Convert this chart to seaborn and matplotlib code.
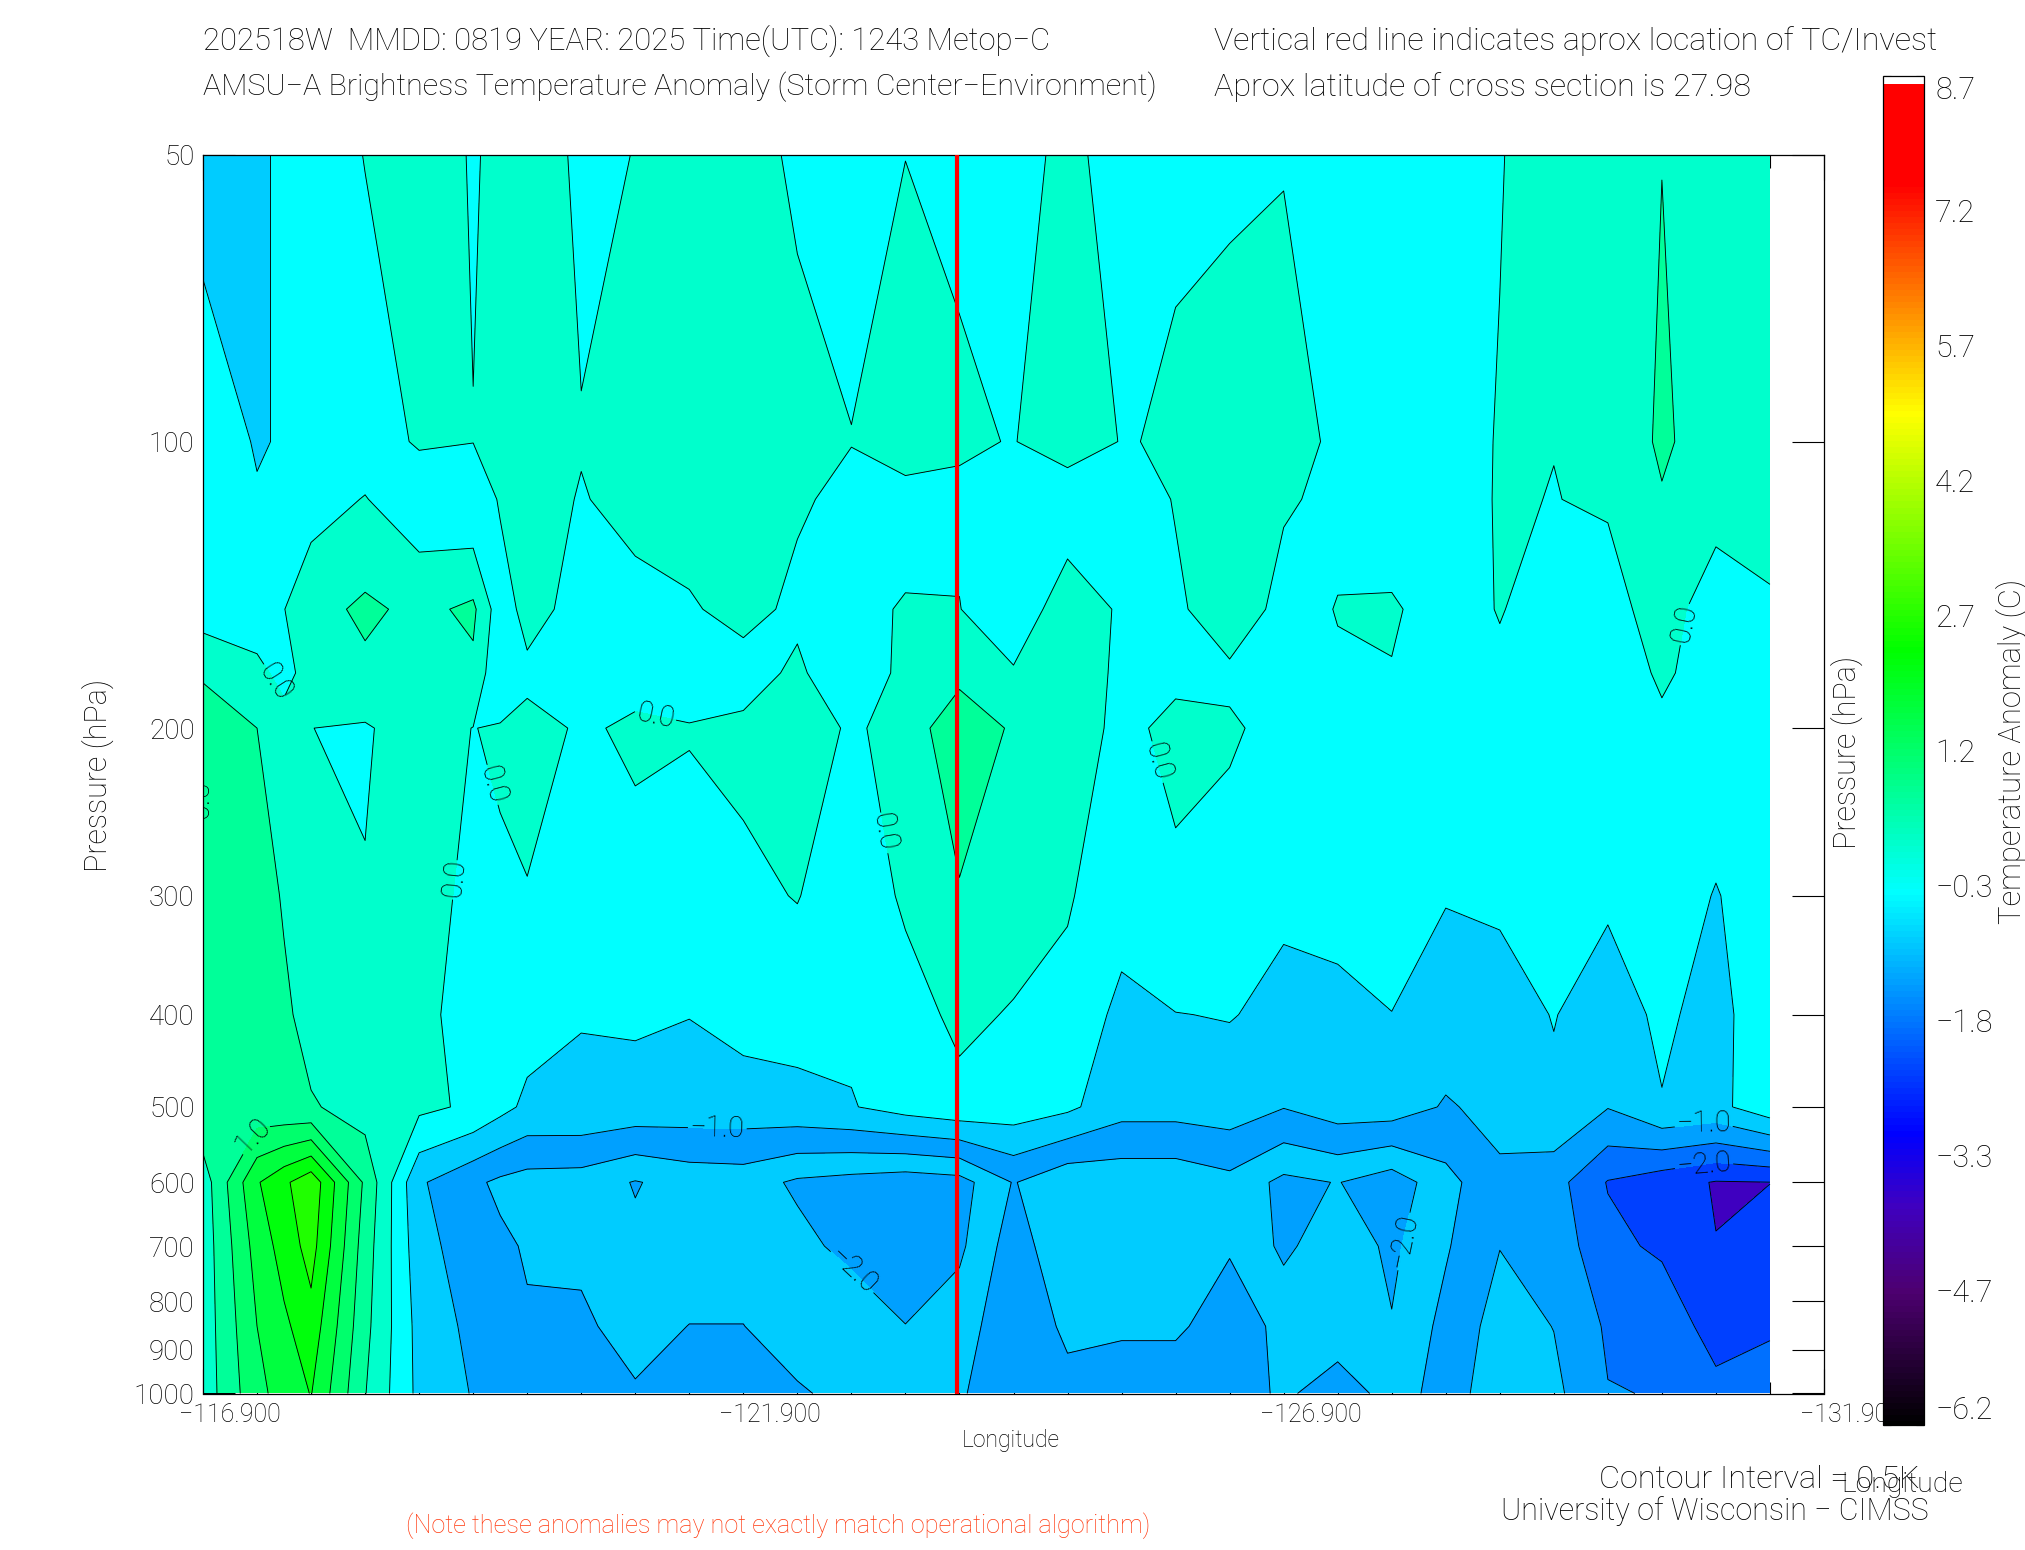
import numpy as np
import matplotlib
matplotlib.use('Agg')
import matplotlib.pyplot as plt
import seaborn as sns
from matplotlib.colors import ListedColormap, Normalize
from matplotlib.colorbar import ColorbarBase
from matplotlib.patches import Rectangle
from matplotlib.ticker import NullLocator, FixedLocator
from matplotlib.transforms import ScaledTranslation

# ------------------------------------------------------------
# cross section values, one list per pressure level
# ------------------------------------------------------------
LON = [-116.9, -117.4, -117.65, -117.9, -118.4, -118.9, -119.4, -119.65, -119.9, -120.4, -120.9,
       -121.4, -121.9, -122.4, -122.9, -123.4, -123.9, -124.4, -124.9, -125.4, -125.9,
       -126.4, -126.9, -127.4, -127.9, -128.4, -128.9, -129.4, -129.9, -130.4, -130.9, -131.4]
PRESSURE = [50, 100, 115, 150, 175, 200, 300, 400, 500, 600, 700, 850, 1000]

R50 = [-.7, -.6, -.4, -.2, .01, .2, -.03, .08, .3, -.1, .01, .2, .173, -.074, -.115, -.003, -.04,
       -.225, .15, -.25, -.0225, -.047, -.015, -.3, -.3, -.3, -.02, .2, .2, .495, .2, .2]
R100 = [-.13, -.55, -.45, -.38, -.22, .05, .01, .12, .2, .03, .2, .2, .2, .2, .01, .2, .045,
        -.014, .2, -.015, .028, .15, .15, -.07, -.3, -.21, .03, .006, .15, .575, .26, .2]
R115 = [-.15, -.45, -.3, -.175, .02, -.3, -.42, .06, .2, -.03, .15, .2, .25, .05, -.1, -.15, -.0675,
        -.15, -.26, -.1, .01, .2, .015, -.03, -.39, -.21, .035, -.009, .05, .463, .2, .15]
R150 = [-.22, -.28, -.01, .31, .6, .37, .6, -.3, .2, -.2, -.16, -.05, .15, -.1, -.1, .03, .01,
        -.3, .25, -.055, -.03, .1, -.05, .005, .08, -.3, .035, -.3, -.21, .25, -.3, -.05]
R175 = [.4, .13, -.15, .2, .39, .35, .39, -.45, -.12, -.3, -.13, -.09, -.2, .09, -.4, .15, .38,
        .045, .3, -.1, -.1, -.03, -.15, -.015, -.03, -.3, -.13, -.3, -.4, .1, -.3, -.3]
R200 = [.98, .5, .2, .003, -.05, .24, -.01, .05, .15, -.05, .06, .01, .1, .4, -.1, .25, .8,
        .44, .25, -.12, .12, .02, -.05, -.2, -.3, -.3, -.25, -.3, -.3, -.13, -.3, -.3]
R300 = [.95, .75, .45, .15, .03, .15, -.09, -.06, -.024, -.25, -.14, -.08, -.1, .02, -.3, .07, .455,
        .23, .045, -.3, -.1, -.08, -.44, -.265, -.2, -.48, -.43, -.2, -.43, -.3, -.52, -.3]
R400 = [.95, .95, .6, .3, .2, .08, -.12, -.2, -.31, -.48, -.44, -.49, -.35, -.32, -.4, -.2, .11,
        -.04, -.15, -.63, -.51, -.48, -.6, -.7, -.51, -.7, -.7, -.48, -.75, -.4, -.7, -.1]
R500 = [.9, .66, .6, .55, .285, .11, -.08, -.35, -.6, -.59, -.67, -.72, -.71, -.65, -.53, -.3, -.15,
        -.22, -.4, -.81, -.81, -.74, -.98, -.74, -.73, -1.05, -.85, -.6, -.98, -.53, -.64, -.185]
R600 = [.23, 1.95, 2.4, 2.85, .9, -.93, -1.4, -1.6, -1.71, -1.74, -2.03, -1.81, -1.77, -2.08, -2.19, -2.3, -2.2,
        -1.47, -1.9, -1.85, -1.85, -1.65, -2.13, -1.98, -2.29, -1.67, -1.1, -1.3, -2.03, -2.3, -2.53, -2.505]
R700 = [.2, 1.7, 2.2, 2.7, .75, -.8, -1.29, -1.4, -1.55, -1.6, -1.9, -1.8, -1.8, -1.85, -2.15, -2.3, -2.1,
        -1.24, -1.9, -1.8, -1.75, -1.55, -2.1, -1.7, -2.1, -1.55, -1.01, -1.2, -1.85, -2.1, -2.49, -2.3]
R850 = [.2, 1.5, 1.9, 2.3, .64, -.67, -1.13, -1.3, -1.44, -1.41, -1.7, -1.49, -1.49, -1.82, -1.6, -1.99, -1.7,
        -1.2, -1.58, -1.6, -1.6, -1.2, -1.65, -1.8, -1.97, -1.35, -.8, -1.01, -1.57, -1.55, -2.3, -2.1]
R1000 = [.2, 1.36, 1.7, 2.02, .52, -.63, -1.03, -1.1, -1.2, -1.3, -1.44, -1.3, -1.3, -1.42, -1.7, -1.7, -1.55,
         -1.2, -1.37, -1.1, -1.1, -1.2, -1.6, -1.21, -1.7, -1.33, -.6, -.88, -1.48, -1.52, -1.78, -1.6]

LEVELS = np.arange(-3.0, 3.01, 0.5)
LINE_LEVELS = [-2.5, -2.0, -1.5, -1.0, -0.5, 0.0, 0.5, 1.0, 1.5, 2.0, 2.5]

TC_LON = -123.88
CBAR_LABELS = ['-6.2', '-4.7', '-3.3', '-1.8', '-0.3', '1.2', '2.7', '4.2', '5.7', '7.2', '8.7']
PRESSURE_TICKS = [50, 100, 200, 300, 400, 500, 600, 700, 800, 900, 1000]
LON_MAJOR = [-116.9, -121.9, -126.9, -131.9]
LON_MINOR = [v for v in LON if v not in (-117.65, -119.65)]

# where the contour labels sit, (lon, pressure) per level
LABELS = {
    0.0: [(-117.6, 178), (-119.65, 228), (-119.17, 287), (-121.1, 191),
          (-123.27, 256), (-125.78, 216), (-130.55, 155)],
    1.0: [(-117.32, 532)],
    -1.0: [(-121.66, 522), (-130.78, 510)],
    -2.0: [(-122.9, 746), (-128.0, 690), (-130.78, 565)],
}

field = np.array([R50, R100, R115, R150, R175, R200, R300, R400, R500, R600, R700, R850, R1000])


# ------------------------------------------------------------
# colour ramp of the bar
# ------------------------------------------------------------
def build_ramp():
    nodes = [(-6.2, '#000000'), (-4.7, '#4D0070'), (-3.75, '#3F00C0'), (-2.95, '#0000FF'),
             (-0.3, '#00FFFF'), (2.35, '#00FF00'), (4.94, '#FFFF00'), (7.49, '#FF0000'), (8.63, '#FF0000')]
    ramp = []
    for (v0, c0), (v1, c1) in zip(nodes[:-1], nodes[1:]):
        n = int(round((v1 - v0) * 15)) + 1
        ramp += sns.blend_palette([c0, c1], n)[:-1]
    ramp += ['#FFFFFF']
    return ListedColormap(ramp)


sns.set_style('white')
plt.rcParams['font.family'] = ['Roboto', 'DejaVu Sans']
plt.rcParams['font.weight'] = 'light'
plt.rcParams['axes.unicode_minus'] = True

W, H = 2025, 1550
TXT = '#000000'
fig = plt.figure(figsize=(W / 100, H / 100), dpi=100, facecolor='white')
ax = fig.add_axes([203 / W, 1 - 1393.5 / H, (1824 - 203) / W, (1393.5 - 155) / H])

cmap = build_ramp()
norm = Normalize(-6.2, 8.7)
mids = (LEVELS[:-1] + LEVELS[1:]) / 2

# east of 129.4W the bands run the normal way, west of it the
# reference paints -2..-1.5 and below -2 with the lighter blues
east = ['#3F00C0', '#0040FF', '#0070FF', '#00A0FF', '#00CCFF', '#00FFFF'] + [cmap(norm(m)) for m in mids[6:]]
west = list(east)
west[1] = west[3]   # below -2
west[2] = west[4]   # -2 .. -1.5

split = -129.4
cf_west = ax.contourf(LON, PRESSURE, field, levels=LEVELS, colors=west)
cf_east = ax.contourf(LON, PRESSURE, field, levels=LEVELS, colors=east)
ax.set_yscale('log')
ax.set_ylim(1000, 50)
ax.set_xlim(-116.9, -131.9)
cf_west.set_clip_path(Rectangle((LON[0], 50), split - LON[0], 950, transform=ax.transData))
cf_east.set_clip_path(Rectangle((split, 50), LON[-1] - split, 950, transform=ax.transData))

# one contour set per level, clabel() with manual spots only works that way
for level in LINE_LEVELS:
    cs = ax.contour(LON, PRESSURE, field, levels=[level], colors='black', linewidths=0.65,
                    linestyles='solid')
    if level in LABELS:
        ax.clabel(cs, manual=LABELS[level], inline=True, inline_spacing=2, fontsize=21,
                  fmt=lambda v: f'{v:.1f}'.replace('-', '\u2212'), colors=TXT)

# label cut off by the left axis in the reference
ax.text(-116.87, 238, '0.5', rotation=90, ha='center', va='center', fontsize=21, color=TXT, clip_on=True)

ax.axvline(TC_LON, color='#FF0000', lw=3.0, zorder=5)

# axes and ticks
for side in ax.spines.values():
    side.set_linewidth(0.9)
    side.set_color('black')
    side.set_visible(True)

ax.yaxis.set_major_locator(FixedLocator(PRESSURE_TICKS))
ax.yaxis.set_minor_locator(NullLocator())
ax.set_yticklabels([str(p) for p in PRESSURE_TICKS], fontsize=20, color=TXT)
ax.tick_params(axis='y', which='major', direction='in', length=23, width=0.8, left=True, right=True,
               pad=6, color='black')
ax.set_xticks(LON_MAJOR)
ax.set_xticklabels([f'\u2212{abs(v):.3f}' for v in LON_MAJOR], fontsize=18, color=TXT)
ax.set_xticks(LON_MINOR, minor=True)
ax.tick_params(axis='x', which='major', direction='in', length=18, width=0.8, bottom=True, top=True,
               pad=7, color='black')
ax.tick_params(axis='x', which='minor', direction='in', length=9, width=0.8, bottom=True, top=True,
               color='black')
shift = ScaledTranslation(27 / 100, 0, fig.dpi_scale_trans)
for lab in ax.get_xticklabels():
    lab.set_transform(lab.get_transform() + shift)


def put(x, y, s, size, ha='left', rot=0, color=TXT):
    fig.text(x / W, 1 - y / H, s, fontsize=size, ha=ha, va='center', rotation=rot, color=color)


put(203, 41, '202518W  MMDD: 0819 YEAR: 2025 Time(UTC): 1243 Metop\u2212C', 22.3)
put(203, 87, 'AMSU\u2212A Brightness Temperature Anomaly (Storm Center\u2212Environment)', 21.95)
put(1214, 41, 'Vertical red line indicates aprox location of TC/Invest', 23.1)
put(1214, 87, 'Aprox latitude of cross section is 27.98', 23.3)
put(98, 775, 'Pressure (hPa)', 22, ha='center', rot=90)
put(1847, 752, 'Pressure (hPa)', 22, ha='center', rot=90)
put(2012, 751, 'Temperature Anomaly (C)', 22.3, ha='center', rot=90)
put(1011, 1441, 'Longitude', 16.5, ha='center')
put(1902, 1485, 'Longitude', 20.5, ha='center')
put(1920, 1479, 'Contour Interval = 0.5K', 23.4, ha='right')
put(1929, 1511, 'University of Wisconsin \u2212 CIMSS', 22, ha='right')
put(406, 1526, '(Note these anomalies may not exactly match operational algorithm)', 18.2, color='#FF3A10')

# colour bar, drawn over the last longitude label
cax = fig.add_axes([1883 / W, 1 - 1425 / H, 41 / W, (1425 - 76) / H], zorder=10)
cbar = ColorbarBase(cax, cmap=cmap, norm=norm, orientation='vertical')
cbar.solids.set_edgecolor('face')
tick_pos = np.linspace(-6.2, 8.7, len(CBAR_LABELS))
cbar.set_ticks(tick_pos)
cbar.set_ticklabels([t.replace('-', '\u2212') for t in CBAR_LABELS], fontsize=22, color=TXT)
cax.yaxis.set_minor_locator(FixedLocator((tick_pos[:-1] + tick_pos[1:]) / 2))
cax.tick_params(which='major', direction='in', length=6, width=0.8, left=True, right=True, pad=8, color='black')
cax.tick_params(which='minor', direction='in', length=3, width=0.8, left=True, right=True, color='black')
cbar.outline.set_linewidth(0.9)
cbar.outline.set_edgecolor('black')
labs = cax.get_yticklabels()
labs[0].set_va('bottom')
labs[-1].set_va('top')

fig.savefig('out.png', dpi=100, facecolor='white')
